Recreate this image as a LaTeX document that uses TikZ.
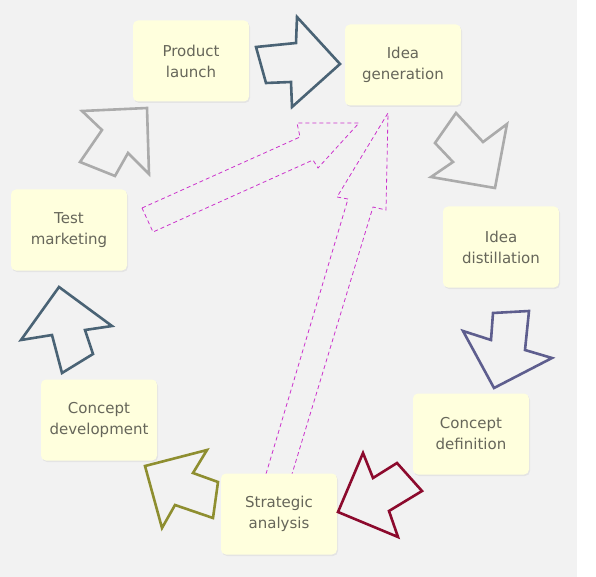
\documentclass[tikz,border=0pt]{standalone}
\usepackage{fontspec}
\setmainfont{DejaVu Sans}
\usetikzlibrary{shadows}
\definecolor{bgrey}{HTML}{F2F2F2}
\definecolor{boxfill}{HTML}{FFFFDD}
\definecolor{boxtext}{HTML}{66665A}
\definecolor{slate}{HTML}{4A6375}
\definecolor{ash}{HTML}{ABABAB}
\definecolor{dusk}{HTML}{5E5E8E}
\definecolor{wine}{HTML}{8C0A2D}
\definecolor{moss}{HTML}{8E8E30}
\definecolor{guidec}{HTML}{CC33CC}
\begin{document}
\begin{tikzpicture}[x=1pt,y=-1pt,
  stage/.style={fill=boxfill,rounded corners=5pt,minimum width=116pt,minimum height=81pt,align=center,text=boxtext,font=\fontsize{15}{21}\selectfont,drop shadow={opacity=0.12,shadow xshift=1pt,shadow yshift=-1.5pt}},
  blockarr/.style={line width=2.6pt,line join=miter},
  guide/.style={draw=guidec,line width=0.8pt,dash pattern=on 4pt off 3pt}]
\useasboundingbox (0,0) rectangle (596,577);
\fill[bgrey] (0,0) rectangle (577,577);
% thin dashed arrows towards the idea stage
\draw[guide] (142,208)--(300,137)--(297,123)--(359,123)--(318,168)--(313,160)--(153,232)--cycle;
\draw[guide] (266,474)--(348,199)--(337,197)--(388,113)--(386,210)--(373,207)--(292,474);
% stages
\node[stage] (launch) at (191,61) {Product\\launch};
\node[stage] (idea) at (403,65) {Idea\\generation};
\node[stage] (distil) at (501,247) {Idea\\distillation};
\node[stage] (define) at (471,434) {Concept\\definition};
\node[stage] (strategy) at (279,514) {Strategic\\analysis};
\node[stage] (develop) at (99,420) {Concept\\development};
\node[stage] (test) at (69,230) {Test\\marketing};
% block arrows round the cycle
\draw[blockarr,slate] (256,47)--(296,43)--(297,17)--(340,64)--(292,107)--(291,82)--(266,83)--cycle;
\draw[blockarr,ash] (456,113)--(483,142)--(507,124)--(495,188)--(431,177)--(453,162)--(435,143)--cycle;
\draw[blockarr,dusk] (493,313)--(529,311)--(525,350)--(552,358)--(494,388)--(463,331)--(491,340)--cycle;
\draw[blockarr,wine] (363,453)--(373,478)--(397,463)--(422,491)--(389,511)--(398,537)--(338,512)--cycle;
\draw[blockarr,moss] (145,466)--(207,450)--(193,473)--(218,482)--(213,518)--(175,505)--(162,528)--cycle;
\draw[blockarr,slate] (59,287)--(112,326)--(85,330)--(93,354)--(62,373)--(52,335)--(21,340)--cycle;
\draw[blockarr,ash] (82,111)--(147,108)--(149,174)--(128,153)--(115,176)--(80,162)--(102,130)--cycle;
\end{tikzpicture}
\end{document}
